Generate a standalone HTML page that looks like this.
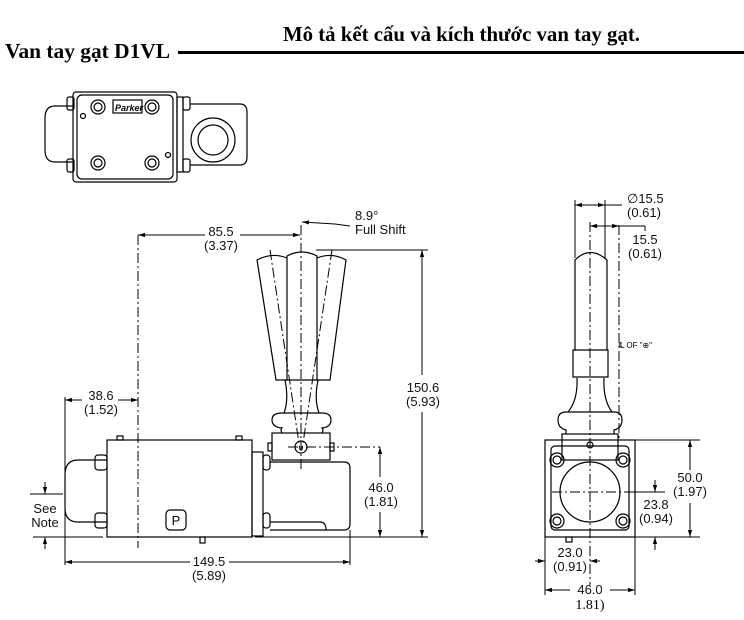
<!DOCTYPE html>
<html><head><meta charset="utf-8"><style>
html,body{margin:0;padding:0;background:#fff;width:744px;height:620px;overflow:hidden}
svg{display:block}
.t{font-family:"Liberation Sans",Arial,sans-serif;font-size:13px;fill:#111}
.h{font-family:"Liberation Serif","Noto Serif CJK SC",serif;font-weight:bold;fill:#000}
</style></head><body>
<svg width="744" height="620" viewBox="0 0 744 620" xmlns="http://www.w3.org/2000/svg">
<defs>
<marker id="a" viewBox="0 0 10 10" refX="10" refY="5" markerWidth="7" markerHeight="7" orient="auto-start-reverse"><path d="M0,2 L10,5 L0,8 z" fill="#000"/></marker>
</defs>
<text class="h" x="283" y="41" font-size="21" textLength="357" lengthAdjust="spacingAndGlyphs">Mô tả kết cấu và kích thước van tay gạt.</text>
<text class="h" x="5" y="58" font-size="21" textLength="165" lengthAdjust="spacingAndGlyphs">Van tay gạt D1VL</text>
<rect x="178" y="51" width="566" height="3" fill="#000"/>

<g fill="none" stroke="#000" stroke-width="1.2">
<path d="M73,106 H55 Q45,106 45,118 V150 Q45,162 55,162 H73"/>
<rect x="67" y="97" width="7" height="13" rx="2"/><rect x="67" y="159" width="7" height="13" rx="2"/>
<rect x="73" y="92" width="104" height="90" rx="3"/>
<rect x="77" y="95" width="96" height="84" rx="5"/>
<rect x="177" y="97" width="6" height="75"/>
<rect x="183" y="97" width="7" height="13" rx="2"/><rect x="183" y="159" width="7" height="13" rx="2"/>
<path d="M190,104 H240 Q247,104 247,112 V157 Q247,165 240,165 H190"/>
<circle cx="213" cy="140" r="22"/><circle cx="213" cy="140" r="15"/>
<circle cx="98" cy="107" r="7"/><circle cx="98" cy="107" r="4"/>
<circle cx="152" cy="107" r="7"/><circle cx="152" cy="107" r="4"/>
<circle cx="98" cy="163" r="7"/><circle cx="98" cy="163" r="4"/>
<circle cx="152" cy="163" r="7"/><circle cx="152" cy="163" r="4"/>
<circle cx="83" cy="116" r="2.5"/><circle cx="168" cy="155" r="2.5"/>
<rect x="113" y="100" width="29" height="13"/>
</g>
<text x="115" y="111" font-family="Liberation Sans,sans-serif" font-size="9" font-weight="bold" font-style="italic">Parker</text>

<g fill="none" stroke="#000" stroke-width="1.2">
<path d="M107,460 H78 Q65,460 65,475 V508 Q65,522 78,522 H107"/>
<rect x="95" y="455" width="12" height="15" rx="3"/><rect x="95" y="513" width="12" height="15" rx="3"/>
<rect x="107" y="440" width="145" height="97"/>
<rect x="117" y="436" width="6" height="4"/><rect x="236" y="436" width="6" height="4"/>
<rect x="252" y="452" width="11" height="84"/>
<rect x="263" y="455" width="7" height="15" rx="3"/><rect x="263" y="513" width="7" height="15" rx="3"/>
<path d="M270,462 H344 Q350,462 350,468 V524 Q350,530 344,530 H270"/>
<path d="M270,522 H320 Q326,522 326,530"/>
<rect x="166" y="510" width="20" height="20" rx="4"/>
<rect x="200" y="537" width="5" height="6"/>
<rect x="272" y="433" width="58" height="27"/>
<rect x="268" y="443" width="4" height="8"/><rect x="330" y="443" width="4" height="8"/>
<circle cx="301" cy="447" r="6"/>
<path d="M282,413 Q272,413 272,420 Q272,427 282,428 Q280,430 282,433 M322,413 Q331,413 331,420 Q331,427 322,428 Q324,430 322,433"/>
<path d="M282,413 H322"/>
<path d="M285,380 Q289,400 284,413 M318,380 Q314,400 319,413"/>
<path d="M287,380 V256 Q302,248 317,256 V380 Z"/>
<path d="M287,258 Q272,252 257,260 L276,380 H288"/>
<path d="M317,258 Q332,252 346,260 L330,380 H316"/>
</g>
<g stroke="#000" stroke-width="1" stroke-dasharray="10,3,2,3" fill="none">
<line x1="301" y1="225" x2="301" y2="470"/>
<line x1="270" y1="250" x2="300" y2="450"/>
<line x1="332" y1="250" x2="302" y2="450"/>
<line x1="138" y1="235" x2="138" y2="548"/>
<line x1="288" y1="447" x2="380" y2="447"/>
</g>
<g stroke="#000" stroke-width="1" fill="none">
<line x1="138" y1="235" x2="205" y2="235" marker-start="url(#a)"/><line x1="240" y1="235" x2="300" y2="235" marker-end="url(#a)"/>
<path d="M302,222 L335,224 M335,224 L350,226" marker-start="url(#a)"/>
<line x1="65" y1="397" x2="65" y2="565"/>
<line x1="65" y1="400" x2="82" y2="400" marker-start="url(#a)"/><line x1="118" y1="400" x2="138" y2="400" marker-end="url(#a)"/>
<line x1="65" y1="562" x2="190" y2="562" marker-start="url(#a)"/><line x1="229" y1="562" x2="350" y2="562" marker-end="url(#a)"/>
<line x1="350" y1="530" x2="350" y2="565"/>
<line x1="316" y1="250" x2="428" y2="250"/><line x1="255" y1="537" x2="428" y2="537"/>
<line x1="422" y1="250" x2="422" y2="375" marker-start="url(#a)"/><line x1="422" y1="412" x2="422" y2="537" marker-end="url(#a)"/>
<line x1="380" y1="447" x2="380" y2="477" marker-start="url(#a)"/><line x1="380" y1="512" x2="380" y2="537" marker-end="url(#a)"/>
<line x1="30" y1="494" x2="63" y2="494"/><line x1="33" y1="537" x2="103" y2="537"/>
<line x1="45" y1="482" x2="45" y2="494" marker-end="url(#a)"/><line x1="45" y1="549" x2="45" y2="537" marker-end="url(#a)"/>
</g>
<text class="t" x="221" y="236" text-anchor="middle">85.5</text><text class="t" x="221" y="250" text-anchor="middle">(3.37)</text>
<text class="t" x="355" y="220">8.9°</text><text class="t" x="355" y="234">Full Shift</text>
<text class="t" x="101" y="400" text-anchor="middle">38.6</text><text class="t" x="101" y="414" text-anchor="middle">(1.52)</text>
<text class="t" x="423" y="392" text-anchor="middle">150.6</text><text class="t" x="423" y="406" text-anchor="middle">(5.93)</text>
<text class="t" x="381" y="492" text-anchor="middle">46.0</text><text class="t" x="381" y="506" text-anchor="middle">(1.81)</text>
<text class="t" x="209" y="566" text-anchor="middle">149.5</text><text class="t" x="209" y="580" text-anchor="middle">(5.89)</text>
<text class="t" x="45" y="513" text-anchor="middle" font-size="12">See</text><text class="t" x="45" y="527" text-anchor="middle" font-size="12">Note</text>
<text x="176" y="525" text-anchor="middle" font-family="Liberation Sans,sans-serif" font-size="13">P</text>

<g fill="none" stroke="#000" stroke-width="1.2">
<rect x="545" y="440" width="90" height="97"/>
<rect x="551" y="446" width="78" height="84" rx="4"/>
<circle cx="590" cy="492" r="30"/>
<circle cx="557" cy="460" r="7"/><circle cx="557" cy="460" r="4"/>
<circle cx="623" cy="460" r="7"/><circle cx="623" cy="460" r="4"/>
<circle cx="557" cy="521" r="7"/><circle cx="557" cy="521" r="4"/>
<circle cx="623" cy="521" r="7"/><circle cx="623" cy="521" r="4"/>
<rect x="562" y="434" width="56" height="26"/>
<circle cx="590" cy="445" r="3"/>
<path d="M566,412 Q558,412 558,420 Q558,428 566,430 L566,434 M614,412 Q622,412 622,420 Q622,428 614,430 L614,434 M566,412 H614"/>
<path d="M577,378 Q578,400 568,412 M604,378 Q603,400 612,412"/>
<path d="M575,350 V260 Q590,245 607,260 V350 M573,350 H608 V377 H573 Z"/>
<rect x="566" y="537" width="6" height="5"/>
</g>
<g stroke="#000" stroke-width="1" stroke-dasharray="10,3,2,3" fill="none">
<line x1="590" y1="222" x2="590" y2="585"/>
<line x1="552" y1="492" x2="632" y2="492"/>
<line x1="619" y1="225" x2="619" y2="440"/>
</g>
<g stroke="#000" stroke-width="1" fill="none">
<line x1="575" y1="200" x2="575" y2="258"/><line x1="605" y1="200" x2="605" y2="258"/>
<line x1="575" y1="205" x2="605" y2="205" marker-start="url(#a)" marker-end="url(#a)"/><line x1="605" y1="205" x2="622" y2="205"/>
<line x1="590" y1="226" x2="619" y2="226" marker-start="url(#a)" marker-end="url(#a)"/><line x1="619" y1="226" x2="645" y2="226"/><line x1="645" y1="226" x2="645" y2="231"/>
<line x1="635" y1="440" x2="700" y2="440"/><line x1="635" y1="537" x2="700" y2="537"/>
<line x1="690" y1="440" x2="690" y2="470" marker-start="url(#a)"/><line x1="690" y1="503" x2="690" y2="537" marker-end="url(#a)"/>
<line x1="632" y1="492" x2="665" y2="492"/>
<line x1="655" y1="480" x2="655" y2="492" marker-end="url(#a)"/><line x1="655" y1="550" x2="655" y2="537" marker-end="url(#a)"/>
<line x1="545" y1="537" x2="545" y2="595"/><line x1="635" y1="537" x2="635" y2="595"/>
<line x1="535" y1="561" x2="545" y2="561" marker-end="url(#a)"/><line x1="600" y1="561" x2="590" y2="561" marker-end="url(#a)"/>
<line x1="545" y1="590" x2="570" y2="590" marker-start="url(#a)"/><line x1="610" y1="590" x2="635" y2="590" marker-end="url(#a)"/>
</g>
<text class="t" x="627" y="203">∅15.5</text><text class="t" x="627" y="217">(0.61)</text>
<text class="t" x="645" y="244" text-anchor="middle">15.5</text><text class="t" x="645" y="258" text-anchor="middle">(0.61)</text>
<text x="619" y="348" font-family="Liberation Sans,sans-serif" font-size="8">℄ OF "⊕"</text>
<text class="t" x="690" y="482" text-anchor="middle">50.0</text><text class="t" x="690" y="496" text-anchor="middle">(1.97)</text>
<text class="t" x="656" y="509" text-anchor="middle">23.8</text><text class="t" x="656" y="523" text-anchor="middle">(0.94)</text>
<text class="t" x="570" y="557" text-anchor="middle">23.0</text><text class="t" x="570" y="571" text-anchor="middle">(0.91)</text>
<text class="t" x="590" y="594" text-anchor="middle">46.0</text><text x="590" y="609" text-anchor="middle" font-family="Liberation Serif,serif" font-size="14">1.81)</text>
</svg>
</body></html>
